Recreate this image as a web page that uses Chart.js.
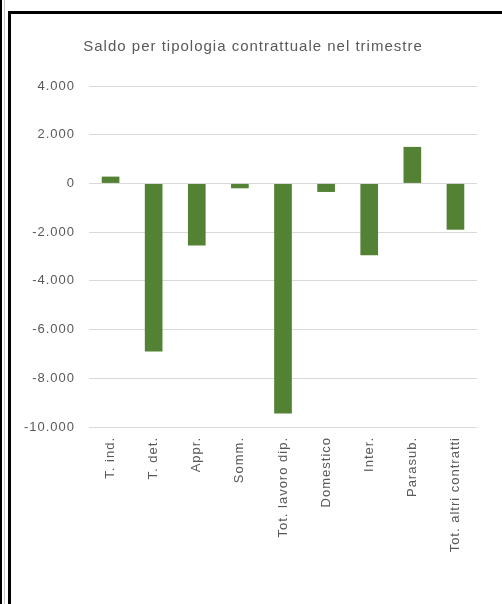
<!DOCTYPE html>
<html>
<head>
<meta charset="utf-8">
<script src="https://cdn.jsdelivr.net/npm/chart.js@4"></script>
<style>
  html, body { margin: 0; padding: 0; background: #fff; }
  #box { position: relative; width: 502px; height: 604px; overflow: hidden; }
  .linea { position: absolute; }
  canvas { position: absolute; left: 0; top: 0; }
</style>
</head>
<body>
<div id="box">
  <!-- bordi delle celle di Excel -->
  <div class="linea" style="left:0;top:0;width:2px;height:604px;background:#000"></div>
  <div class="linea" style="left:4px;top:0;width:1px;height:604px;background:#c8c8c8"></div>
  <div class="linea" style="left:8px;top:11px;width:3px;height:593px;background:#000"></div>
  <div class="linea" style="left:8px;top:11px;width:494px;height:3px;background:#000"></div>
  <canvas id="grafico" width="502" height="604"></canvas>
</div>
<script>
// categorie
const tipologie = ["T. ind.", "T. det.", "Appr.", "Somm.", "Tot. lavoro dip.", "Domestico", "Inter.", "Parasub.", "Tot. altri contratti"];
// saldo nel trimestre
const saldi = [280, -6900, -2550, -200, -9450, -350, -2950, 1500, -1900];
// asse y
const yMin = -10000;
const yMax = 4000;
const yPasso = 2000;

const titolo = "Saldo per tipologia contrattuale nel trimestre";
const grigioTesto = "#595959";
const verde = "#548235";
const font = "'Liberation Sans', Arial, sans-serif";

//formato italiano con il punto per le migliaia
function formatta(v) {
  const s = String(Math.abs(v)).replace(/\B(?=(\d{3})+(?!\d))/g, ".");
  return (v < 0 ? "-" : "") + s;
}

const ctx = document.getElementById("grafico").getContext("2d");

// spaziatura delle lettere come in Excel + titolo centrato sulla cornice
const titoloExcel = {
  id: "titoloExcel",
  beforeInit(chart) { chart.ctx.letterSpacing = "1px"; },
  beforeDraw(chart) { chart.ctx.letterSpacing = "1px"; },
  afterDraw(chart) {
    const c = chart.ctx;
    c.save();
    c.letterSpacing = "1px";
    c.font = "15px " + font;
    c.fillStyle = grigioTesto;
    c.textAlign = "center";
    c.textBaseline = "middle";
    c.fillText(titolo, 253, 47);
    c.restore();
  }
};

new Chart(ctx, {
  type: "bar",
  data: {
    labels: tipologie,
    datasets: [{
      data: saldi,
      backgroundColor: verde,
      borderWidth: 0,
      barPercentage: 0.41,
      categoryPercentage: 1
    }]
  },
  plugins: [titoloExcel],
  options: {
    responsive: false,
    animation: false,
    layout: { padding: { left: 0, right: 25, top: 86, bottom: 0 } },
    plugins: {
      legend: { display: false },
      tooltip: { enabled: false },
      title: { display: false }
    },
    scales: {
      y: {
        min: yMin,
        max: yMax,
        afterFit(s) { s.width = 89; },
        ticks: {
          stepSize: yPasso,
          color: grigioTesto,
          padding: 14,
          font: { family: font, size: 13 },
          callback: (v) => formatta(v)
        },
        grid: { color: "#d9d9d9", drawTicks: false },
        border: { display: false }
      },
      x: {
        afterFit(s) { s.height = 177; },
        ticks: {
          color: grigioTesto,
          padding: 10,
          minRotation: 90,
          maxRotation: 90,
          autoSkip: false,
          font: { family: font, size: 13 }
        },
        grid: { display: false, drawTicks: false },
        border: { display: false }
      }
    }
  }
});
</script>
</body>
</html>
